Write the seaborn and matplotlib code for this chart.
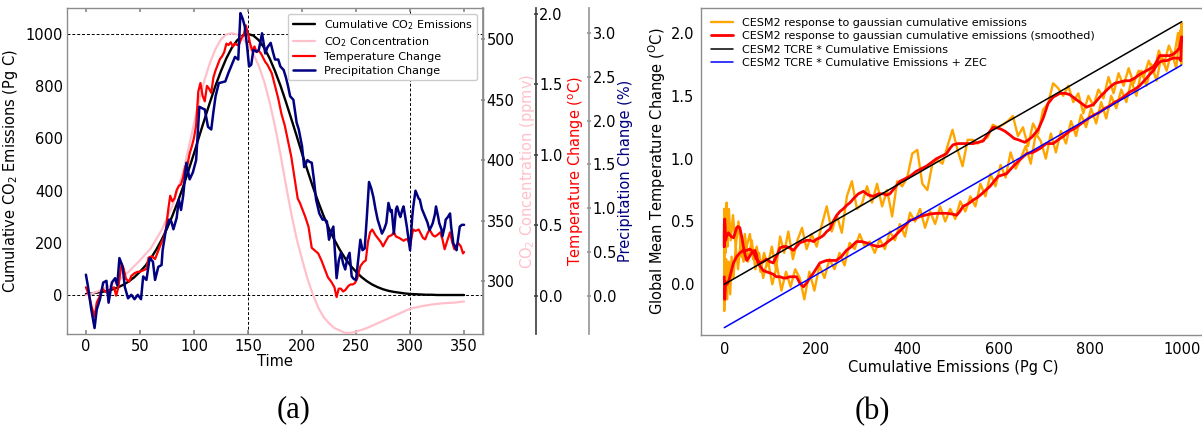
import matplotlib
matplotlib.use("Agg")
import matplotlib.pyplot as plt
import seaborn as sns

# ---------------- Panel (a) data ----------------
ce_time = [0, 5, 10, 15, 20, 25, 30, 35, 40, 45, 50, 55, 60, 65, 70, 75, 80, 85, 90, 95,
           100, 105, 110, 115, 120, 125, 130, 135, 140, 145, 150, 155, 160, 165, 170, 175,
           180, 185, 190, 195, 200, 205, 210, 215, 220, 225, 230, 235, 240, 245, 250, 255,
           260, 265, 270, 275, 280, 285, 290, 295, 300, 305, 310, 315, 320, 325, 330, 335,
           340, 345, 350]
ce_vals = [4, 6, 9, 12, 16, 22, 30, 40, 53, 69, 89, 112, 140, 173, 211, 254, 303, 357, 415, 478,
           542, 610, 676, 741, 803, 858, 907, 947, 976, 994, 1000, 994, 976, 947, 907, 858,
           803, 741, 676, 610, 542, 478, 415, 357, 303, 254, 211, 173, 140, 112, 89, 69,
           53, 40, 30, 22, 16, 12, 9, 6, 4, 3, 2, 1, 1, 0, 0, 0,
           0, 0, 0]

co2_time = [0, 10, 20, 30, 40, 50, 60, 70, 80, 90, 100, 105, 110, 115, 120, 125, 130, 135, 140,
            145, 150, 155, 160, 165, 170, 175, 180, 185, 190, 195, 200, 205, 210, 215, 220,
            225, 230, 235, 240, 245, 250, 260, 270, 280, 290, 300, 310, 320, 330, 340, 350]
co2_vals = [288, 291, 295, 300, 308, 317, 327, 342, 362, 390, 430, 450, 467, 481, 492, 500, 504,
            505, 504, 501, 495, 488, 478, 465, 448, 428, 405, 380, 356, 335, 318, 302, 289, 278,
            270, 265, 261, 259, 257, 257, 258, 261, 265, 269, 273, 277, 279, 280.5, 281.5, 282, 283]

temp_time = [0, 3, 5, 8, 10, 13, 15, 18, 20, 23, 26, 28, 30, 33, 35, 37, 40, 42, 45, 48,
             50, 53, 56, 58, 61, 64, 67, 70, 72, 74, 76, 78, 80, 82, 84, 86, 88, 90, 92, 94,
             96, 98, 100, 102, 104, 106, 108, 110, 112, 114, 116, 118, 120, 122, 124, 126,
             128, 130, 132, 134, 136, 138, 140, 142, 144, 146, 148, 150, 152, 154, 156, 158,
             160, 162, 164, 166, 168, 170, 172, 175, 178, 181, 184, 187, 190, 193, 196, 198,
             200, 203, 206, 209, 212, 215, 218, 221, 224, 227, 230, 232, 234, 236, 238, 240,
             243, 245, 247, 249, 251, 254, 257, 259, 261, 263, 265, 268, 271, 273, 275, 277,
             280, 283, 285, 287, 290, 292, 294, 296, 298, 300, 302, 303, 305, 308, 310, 312,
             314, 316, 318, 321, 323, 325, 328, 330, 332, 334, 337, 339, 341, 343, 345, 347,
             349, 350]
temp_vals = [0.06, 0.0, -0.07, -0.15, -0.05, 0.0, 0.05, 0.03, 0.02, 0.05, 0.06, 0.0, 0.06, 0.23,
             0.19, 0.12, 0.10, 0.14, 0.16, 0.17, 0.17, 0.18, 0.19, 0.27, 0.28, 0.26, 0.32, 0.38,
             0.41, 0.47, 0.60, 0.71, 0.67, 0.69, 0.75, 0.78, 0.79, 0.84, 0.92, 0.93, 1.01, 1.06,
             1.12, 1.21, 1.45, 1.51, 1.42, 1.38, 1.49, 1.47, 1.44, 1.55, 1.60, 1.64, 1.68, 1.70,
             1.73, 1.79, 1.78, 1.80, 1.77, 1.79, 1.78, 1.79, 1.83, 1.85, 1.92, 1.86, 1.79, 1.74,
             1.77, 1.73, 1.74, 1.72, 1.69, 1.66, 1.64, 1.61, 1.58, 1.49, 1.40, 1.29, 1.21, 1.10,
             0.99, 0.84, 0.69, 0.66, 0.62, 0.56, 0.49, 0.34, 0.32, 0.30, 0.25, 0.19, 0.13, 0.10,
             0.06, -0.01, 0.05, 0.05, 0.03, 0.04, 0.07, 0.08, 0.08, 0.09, 0.12, 0.21, 0.24, 0.25,
             0.38, 0.45, 0.47, 0.43, 0.40, 0.38, 0.35, 0.38, 0.42, 0.43, 0.45, 0.42, 0.41, 0.40,
             0.39, 0.40, 0.40, 0.35, 0.44, 0.47, 0.46, 0.47, 0.44, 0.41, 0.40, 0.44, 0.47, 0.43,
             0.42, 0.43, 0.45, 0.40, 0.33, 0.38, 0.45, 0.38, 0.33, 0.36, 0.37, 0.35, 0.30, 0.31]

precip_time = [0, 2, 5, 8, 10, 13, 16, 19, 21, 24, 27, 29, 31, 34, 36, 39, 42, 45, 48, 51,
               53, 56, 59, 62, 64, 67, 70, 71, 74, 77, 79, 81, 84, 86, 88, 90, 93, 96, 99, 102,
               105, 108, 110, 113, 116, 118, 120, 123, 126, 129, 132, 135, 138, 141, 143, 145,
               147, 149, 151, 153, 155, 158, 160, 163, 166, 168, 171, 173, 175, 178, 180, 183,
               185, 187, 189, 192, 195, 197, 200, 202, 205, 207, 209, 211, 213, 216, 219, 221,
               223, 225, 227, 229, 232, 234, 236, 238, 240, 242, 244, 246, 248, 250, 252, 254,
               256, 258, 260, 262, 264, 266, 268, 270, 272, 274, 276, 278, 280, 282, 283, 285,
               287, 288, 290, 291, 293, 294, 296, 297, 299, 300, 302, 303, 305, 306, 308, 309,
               311, 314, 316, 318, 320, 321, 323, 324, 326, 327, 329, 330, 332, 333, 335, 337,
               338, 340, 342, 343, 345, 346, 348, 350]
precip_vals = [0.24, 0.10, -0.16, -0.37, -0.16, -0.04, 0.15, 0.17, -0.08, 0.15, 0.20, 0.12, 0.43,
               0.33, 0.10, -0.03, 0.01, -0.04, 0.01, -0.04, 0.22, 0.18, 0.43, 0.39, 0.18, 0.33,
               0.35, 0.52, 0.75, 0.87, 0.85, 0.76, 0.89, 1.10, 0.98, 1.14, 1.52, 1.33, 1.41, 1.55,
               2.16, 2.14, 2.13, 1.93, 1.90, 2.10, 2.28, 2.43, 2.44, 2.45, 2.55, 2.64, 2.73, 2.70,
               3.23, 3.17, 3.08, 2.87, 2.62, 2.64, 2.81, 2.79, 2.81, 3.00, 2.77, 2.84, 2.89, 2.79,
               2.70, 2.70, 2.62, 2.58, 2.50, 2.40, 2.28, 2.24, 1.98, 1.90, 1.71, 1.47, 1.55, 1.53,
               1.52, 1.33, 1.10, 0.94, 0.87, 0.87, 0.85, 0.64, 0.73, 0.79, 0.20, 0.40, 0.49, 0.37,
               0.30, 0.43, 0.49, 0.22, 0.19, 0.18, 0.41, 0.64, 0.52, 0.54, 0.90, 1.30, 1.23, 1.13,
               0.99, 0.87, 0.79, 0.71, 0.76, 0.83, 1.06, 0.96, 0.98, 0.71, 0.99, 1.02, 0.93, 0.90,
               0.99, 1.02, 0.87, 0.79, 0.61, 0.52, 0.90, 1.02, 1.20, 1.17, 1.11, 1.10, 0.99, 0.90,
               0.84, 0.75, 0.80, 0.83, 0.93, 1.02, 0.90, 0.83, 0.76, 0.68, 0.79, 0.87, 0.90, 0.94,
               0.79, 0.60, 0.55, 0.52, 0.70, 0.79, 0.81, 0.81]

# ---------------- Panel (b) data ----------------
orange_rise = [(0, 0.08), (1, -0.15), (2, 0.12), (3, -0.05), (4, 0.2), (6, -0.12), (8, 0.05),
               (10, 0.18), (13, -0.08), (16, 0.22), (20, 0.05), (25, 0.3), (30, 0.12), (36, 0.35),
               (42, 0.18), (49, 0.3), (56, 0.4), (63, 0.2), (71, 0.3), (79, 0.1), (87, 0.25),
               (95, 0.15), (104, 0.3), (113, 0.12), (122, 0.38), (131, 0.25), (140, 0.42),
               (150, 0.2), (160, 0.35), (170, 0.45), (180, 0.28), (191, 0.4), (202, 0.3),
               (213, 0.47), (224, 0.62), (235, 0.42), (246, 0.55), (257, 0.41), (268, 0.7),
               (279, 0.82), (290, 0.6), (301, 0.64), (312, 0.78), (323, 0.65), (334, 0.8),
               (345, 0.62), (356, 0.75), (367, 0.54), (378, 0.82), (389, 0.78), (400, 0.85),
               (411, 1.04), (422, 1.07), (433, 0.8), (444, 0.75), (455, 0.96), (466, 0.99),
               (477, 0.96), (488, 1.1), (499, 1.23), (510, 1.07), (521, 0.94), (532, 1.15),
               (543, 1.15), (554, 1.12), (565, 1.15), (576, 1.17), (587, 1.27), (598, 1.25),
               (609, 1.27), (620, 1.3), (631, 1.34), (642, 1.18), (653, 1.25), (664, 1.1),
               (675, 1.28), (686, 1.2), (697, 1.39), (708, 1.44), (719, 1.6), (730, 1.56),
               (741, 1.5), (752, 1.58), (763, 1.45), (774, 1.52), (785, 1.36), (796, 1.5),
               (807, 1.42), (818, 1.55), (829, 1.48), (840, 1.65), (851, 1.52), (862, 1.68),
               (873, 1.58), (884, 1.72), (895, 1.6), (906, 1.7), (917, 1.65), (928, 1.78),
               (939, 1.68), (950, 1.86), (961, 1.75), (972, 1.9), (983, 1.8), (992, 2.0),
               (998, 1.85), (1000, 2.08)]
orange_fall = [(999, 1.75), (997, 2.02), (995, 1.95), (988, 1.72), (978, 1.85), (967, 1.7),
               (956, 1.82), (945, 1.62), (934, 1.75), (923, 1.58), (912, 1.7), (901, 1.5),
               (890, 1.62), (879, 1.45), (868, 1.55), (857, 1.4), (846, 1.5), (835, 1.32),
               (824, 1.45), (813, 1.28), (802, 1.4), (791, 1.25), (780, 1.35), (769, 1.18),
               (758, 1.3), (747, 1.12), (736, 1.22), (725, 1.05), (714, 1.2), (703, 1.0),
               (692, 1.14), (681, 1.2), (670, 0.96), (659, 1.1), (648, 1.0), (637, 0.92),
               (626, 1.05), (615, 0.85), (604, 0.95), (593, 0.78), (582, 0.88), (571, 0.7),
               (560, 0.8), (549, 0.62), (538, 0.7), (527, 0.58), (516, 0.66), (505, 0.52),
               (494, 0.6), (483, 0.5), (472, 0.62), (461, 0.48), (450, 0.58), (439, 0.45),
               (428, 0.6), (417, 0.5), (406, 0.57), (395, 0.38), (384, 0.48), (373, 0.35),
               (362, 0.42), (351, 0.28), (340, 0.36), (329, 0.25), (318, 0.34), (307, 0.3),
               (296, 0.4), (285, 0.28), (274, 0.33), (263, 0.15), (252, 0.25), (241, 0.12),
               (230, 0.2), (219, 0.05), (208, 0.15), (197, -0.05), (186, 0.1), (175, -0.12),
               (165, 0.05), (155, 0.12), (145, -0.02), (135, 0.1), (125, -0.05), (115, 0.15),
               (105, 0.0), (95, 0.2), (85, 0.05), (76, 0.25), (68, 0.12), (60, 0.35), (52, 0.18),
               (45, 0.4), (38, 0.22), (31, 0.5), (25, 0.3), (19, 0.55), (14, 0.35), (10, 0.6),
               (7, 0.3), (5, 0.65), (3, 0.25), (2, 0.55), (1, 0.35), (0, 0.5), (0, -0.21),
               (0, 0.6), (0, 0.28), (0, 0.45)]
red_rise = [(0, 0.06), (1, -0.12), (3, 0.02), (6, 0.0), (10, 0.03), (15, 0.1), (20, 0.17),
            (27, 0.22), (34, 0.25), (42, 0.27), (49, 0.27), (56, 0.28), (63, 0.26), (70, 0.2),
            (78, 0.17), (85, 0.18), (92, 0.2), (100, 0.18), (107, 0.17), (115, 0.23), (122, 0.29),
            (129, 0.3), (136, 0.3), (143, 0.29), (151, 0.27), (158, 0.3), (165, 0.33), (173, 0.34),
            (180, 0.35), (188, 0.35), (195, 0.34), (202, 0.36), (209, 0.37), (217, 0.39),
            (224, 0.42), (231, 0.44), (238, 0.5), (246, 0.55), (253, 0.58), (260, 0.6), (268, 0.63),
            (275, 0.65), (282, 0.68), (293, 0.72), (304, 0.74), (315, 0.71), (326, 0.70),
            (337, 0.72), (348, 0.72), (355, 0.71), (362, 0.72), (373, 0.77), (384, 0.82),
            (395, 0.84), (406, 0.86), (420, 0.9), (431, 0.92), (442, 0.94), (453, 0.97), (464, 1.0),
            (475, 1.02), (486, 1.04), (493, 1.08), (500, 1.11), (511, 1.12), (522, 1.12),
            (533, 1.12), (544, 1.12), (555, 1.13), (566, 1.14), (577, 1.2), (588, 1.25),
            (602, 1.24), (613, 1.22), (624, 1.19), (634, 1.16), (643, 1.15), (657, 1.13),
            (665, 1.15), (672, 1.17), (686, 1.23), (697, 1.32), (708, 1.44), (719, 1.49),
            (734, 1.52), (745, 1.52), (755, 1.51), (766, 1.48), (777, 1.45), (792, 1.41),
            (807, 1.43), (821, 1.49), (832, 1.53), (843, 1.57), (854, 1.6), (865, 1.61),
            (876, 1.62), (886, 1.62), (897, 1.64), (908, 1.67), (923, 1.7), (938, 1.73),
            (945, 1.77), (952, 1.82), (960, 1.82), (967, 1.82), (974, 1.82), (981, 1.83),
            (988, 1.85), (995, 1.88), (1000, 1.97)]
red_fall = [(998, 1.78), (995, 1.8), (988, 1.8), (981, 1.8), (974, 1.79), (967, 1.78), (960, 1.78),
            (952, 1.77), (945, 1.74), (938, 1.7), (930, 1.67), (923, 1.64), (908, 1.58), (897, 1.55),
            (886, 1.53), (876, 1.5), (865, 1.47), (854, 1.45), (843, 1.42), (832, 1.4), (821, 1.37),
            (810, 1.35), (800, 1.33), (788, 1.3), (777, 1.27), (766, 1.24), (755, 1.22), (742, 1.18),
            (730, 1.15), (719, 1.12), (704, 1.12), (690, 1.08), (675, 1.05), (661, 1.04),
            (646, 0.99), (632, 0.94), (617, 0.88), (599, 0.86), (590, 0.82), (581, 0.78),
            (572, 0.75), (563, 0.72), (553, 0.69), (544, 0.67), (533, 0.64), (522, 0.62),
            (515, 0.58), (508, 0.55), (497, 0.56), (486, 0.565), (475, 0.565), (464, 0.565),
            (450, 0.56), (439, 0.55), (428, 0.54), (417, 0.52), (406, 0.51), (398, 0.48),
            (391, 0.45), (380, 0.41), (369, 0.37), (358, 0.34), (348, 0.31), (337, 0.3),
            (326, 0.31), (318, 0.32), (311, 0.33), (300, 0.34), (289, 0.34), (278, 0.3),
            (267, 0.27), (256, 0.22), (245, 0.19), (235, 0.19), (224, 0.19), (216, 0.18),
            (209, 0.17), (202, 0.13), (195, 0.09), (187, 0.05), (180, 0.01), (173, -0.02),
            (165, 0.01), (158, 0.06), (150, 0.06), (143, 0.06), (136, 0.05), (129, 0.05),
            (122, 0.06), (114, 0.06), (107, 0.08), (100, 0.09), (92, 0.1), (85, 0.11), (79, 0.14),
            (74, 0.17), (70, 0.24), (67, 0.27), (63, 0.26), (60, 0.25), (55, 0.22), (49, 0.19),
            (45, 0.24), (42, 0.3), (38, 0.38), (34, 0.45), (30, 0.46), (27, 0.45), (23, 0.4),
            (20, 0.37), (15, 0.38), (9, 0.41), (5, 0.38), (3, 0.35), (2, 0.45), (1, 0.52),
            (0, 0.48), (0, 0.3), (0, 0.42)]
tcre_ce = [0, 1000]
tcre_line = [0.0, 2.09]
tcre_zec_line = [-0.345, 1.745]

labels_a = ["Cumulative CO$_2$ Emissions", "CO$_2$ Concentration",
            "Temperature Change", "Precipitation Change"]
labels_b = ["CESM2 response to gaussian cumulative emissions",
            "CESM2 response to gaussian cumulative emissions (smoothed)",
            "CESM2 TCRE * Cumulative Emissions",
            "CESM2 TCRE * Cumulative Emissions + ZEC"]

# ---------------- Figure ----------------
sns.set_theme(style="white")
plt.rcParams["font.family"] = ["DejaVu Sans"]
plt.rcParams["mathtext.fontset"] = "dejavusans"
plt.rcParams["text.color"] = "black"
plt.rcParams["axes.labelcolor"] = "black"
plt.rcParams["xtick.color"] = "black"
plt.rcParams["ytick.color"] = "black"

W, H = 1202, 433
fig = plt.figure(figsize=(W / 100, H / 100), dpi=100)
axA = fig.add_axes([67 / W, 1 - 334 / H, 416 / W, 326 / H])
axB = fig.add_axes([701 / W, 1 - 335 / H, 504 / W, 327 / H])

GRAY = "#8c8c8c"
TS = 10.5
LS = 10.5

# ---- panel (a)
axC = axA.twinx()
axT = axA.twinx()
axP = axA.twinx()

sns.lineplot(x=ce_time, y=ce_vals, ax=axA, color="black", linewidth=1.7,
             estimator=None, sort=False, legend=False)
h1 = axA.lines[-1]
for yv in (0, 1000):
    axA.axhline(yv, color="black", lw=0.7, ls=(0, (3, 2)), zorder=0.5)
for xv in (150, 300):
    axA.axvline(xv, color="black", lw=0.7, ls=(0, (3, 2)), zorder=0.5)

sns.lineplot(x=co2_time, y=co2_vals, ax=axC, color="pink", linewidth=1.6,
             estimator=None, sort=False, legend=False)
h2 = axC.lines[-1]
sns.lineplot(x=temp_time, y=temp_vals, ax=axT, color="red", linewidth=1.6,
             estimator=None, sort=False, legend=False)
h3 = axT.lines[-1]
sns.lineplot(x=precip_time, y=precip_vals, ax=axP, color="navy", linewidth=1.8,
             estimator=None, sort=False, legend=False)
h4 = axP.lines[-1]

axA.set_xlim(-17.5, 367.5)
axA.set_ylim(-149.4, 1099.6)
axC.set_ylim(256.1, 525.9)
axT.set_ylim(-0.272, 2.043)
axP.set_ylim(-0.438, 3.289)

axA.set_xticks([0, 50, 100, 150, 200, 250, 300, 350])
axA.set_yticks([0, 200, 400, 600, 800, 1000])
axC.set_yticks([300, 350, 400, 450, 500])
axT.set_yticks([0.0, 0.5, 1.0, 1.5, 2.0])
axP.set_yticks([0.0, 0.5, 1.0, 1.5, 2.0, 2.5, 3.0])

for sp in axA.spines.values():
    sp.set_color(GRAY)
    sp.set_linewidth(1.0)
for ax in (axC, axT, axP):
    for name in ("left", "top", "bottom"):
        ax.spines[name].set_visible(False)
axC.spines["right"].set_color(GRAY)
axT.spines["right"].set_position(("axes", 1.127))
axT.spines["right"].set_color("#444444")
axP.spines["right"].set_position(("axes", 1.255))
axP.spines["right"].set_color("#999999")

axA.tick_params(axis="x", direction="in", top=True, bottom=True, length=3, color=GRAY,
                labelcolor="black", labelsize=TS, pad=3.5)
axA.tick_params(axis="y", left=True, length=0, labelsize=TS, pad=3, labelcolor="black")
for ax, col in ((axC, GRAY), (axT, "#444444"), (axP, "#999999")):
    ax.tick_params(axis="y", right=True, direction="inout", length=3, color=col,
                   labelcolor="black", labelsize=TS, pad=1)

axA.set_xlabel("Time", fontsize=LS, labelpad=0, color="black")
axA.set_ylabel("Cumulative CO$_2$ Emissions (Pg C)", fontsize=LS, color="black")
axA.yaxis.set_label_coords(-0.113, 0.5)
axC.set_ylabel("CO$_2$ Concentration (ppmv)", fontsize=LS, color="pink", rotation=90)
axC.yaxis.set_label_coords(1.084, 0.5)
axT.set_ylabel("Temperature Change ($^\\mathrm{o}$C)", fontsize=LS, color="red", rotation=90)
axT.yaxis.set_label_coords(1.2, 0.5)
axP.set_ylabel("Precipitation Change (%)", fontsize=LS, color="navy", rotation=90)
axP.yaxis.set_label_coords(1.325, 0.5)

axP.legend([h1, h2, h3, h4], labels_a, loc="upper right", fontsize=8, labelspacing=0.3,
           frameon=True, fancybox=True, framealpha=1.0, edgecolor="#cccccc",
           borderpad=0.4, handlelength=2.0, handletextpad=0.8)

# ---- panel (b)
o_ce = [p[0] for p in orange_rise] + [p[0] for p in orange_fall]
o_t = [p[1] for p in orange_rise] + [p[1] for p in orange_fall]
r_ce = [p[0] for p in red_rise] + [p[0] for p in red_fall]
r_t = [p[1] for p in red_rise] + [p[1] for p in red_fall]

sns.lineplot(x=o_ce, y=o_t, ax=axB, color="orange", linewidth=1.7,
             estimator=None, sort=False, legend=False)
g1 = axB.lines[-1]
sns.lineplot(x=r_ce, y=r_t, ax=axB, color="red", linewidth=2.0,
             estimator=None, sort=False, legend=False)
g2 = axB.lines[-1]
sns.lineplot(x=tcre_ce, y=tcre_line, ax=axB, color="black", linewidth=1.1,
             estimator=None, sort=False, legend=False)
g3 = axB.lines[-1]
sns.lineplot(x=tcre_ce, y=tcre_zec_line, ax=axB, color="blue", linewidth=1.1,
             estimator=None, sort=False, legend=False)
g4 = axB.lines[-1]

axB.set_xlim(-50.9, 1051)
axB.set_ylim(-0.4035, 2.199)
axB.set_xticks([0, 200, 400, 600, 800, 1000])
axB.set_yticks([0.0, 0.5, 1.0, 1.5, 2.0])
for sp in axB.spines.values():
    sp.set_color(GRAY)
    sp.set_linewidth(1.0)
axB.tick_params(axis="both", length=0, labelsize=TS, pad=5, labelcolor="black")
axB.set_xlabel("Cumulative Emissions (Pg C)", fontsize=LS, labelpad=2, color="black")
axB.set_ylabel("Global Mean Temperature Change ($^\\mathrm{O}$C)", fontsize=LS, color="black")
axB.yaxis.set_label_coords(-0.066, 0.5)
axB.legend([g1, g2, g3, g4], labels_b, loc="upper left", fontsize=8, labelspacing=0.3,
           frameon=False, handlelength=2.0, handletextpad=0.8)

# ---- panel letters
fig.text(294 / W, 1 - 410 / H, "(a)", ha="center", va="center", fontsize=22,
         family="Liberation Serif", color="black")
fig.text(872 / W, 1 - 412 / H, "(b)", ha="center", va="center", fontsize=22,
         family="Liberation Serif", color="black")

fig.savefig("out.png", dpi=100)
